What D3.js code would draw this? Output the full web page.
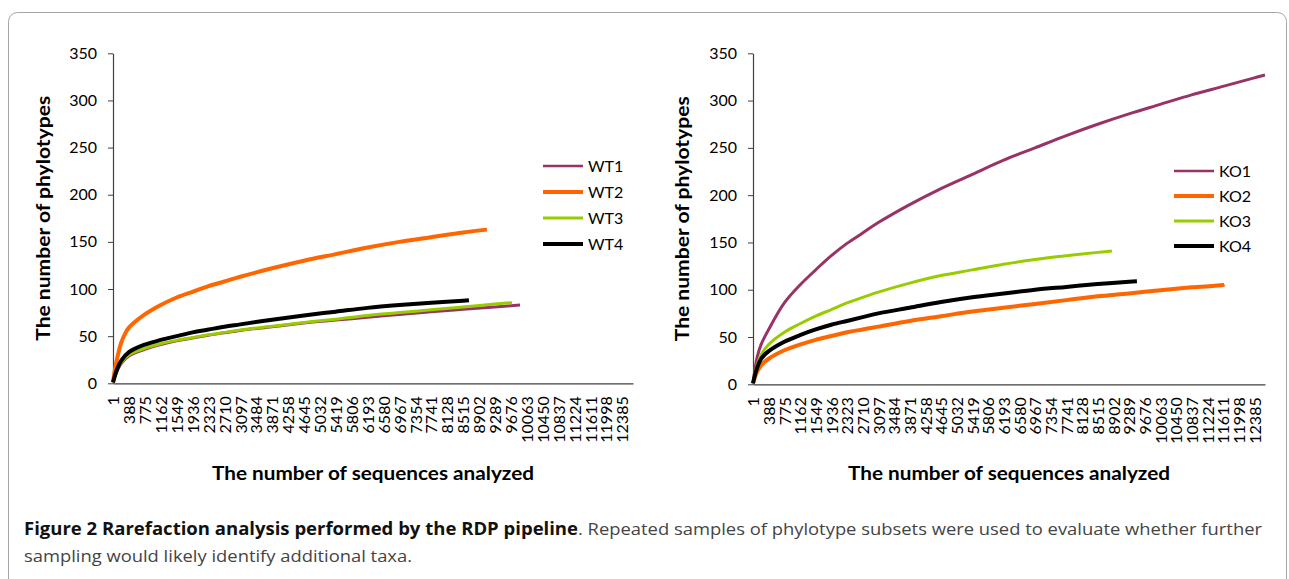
<!DOCTYPE html>
<html>
<head>
<meta charset="utf-8">
<script src="https://cdn.jsdelivr.net/npm/d3@7"></script>
<style>
  body { margin: 0; background: #fff; }
  svg { display: block; }
  .tick text { font-family: Lato, 'Open Sans', sans-serif; fill: #000; }
  .axis path, .axis line { stroke: #404040; }
</style>
</head>
<body>
<div id="main"></div>
<script>
'use strict';
// - - - - - - - - - -

// data
const seqTicks = [1, 388, 775, 1162, 1549, 1936, 2323, 2710, 3097, 3484, 3871, 4258, 4645, 5032, 5419, 5806,
  6193, 6580, 6967, 7354, 7741, 8128, 8515, 8902, 9289, 9676, 10063, 10450, 10837, 11224, 11611, 11998, 12385];
const phyTicks = [0, 50, 100, 150, 200, 250, 300, 350];
const seqMax = 12650;

const wtNames = ['WT1', 'WT2', 'WT3', 'WT4'];
const koNames = ['KO1', 'KO2', 'KO3', 'KO4'];
const seriesColors = ['#993366', '#ff6600', '#99cc00', '#000000'];

const seqWT1 = [1, 100, 200, 388, 775, 1162, 1549, 1936, 2323, 2710, 3097, 3871, 4645, 5419, 6193, 6967, 7741, 8515, 9289, 9902];
const phyWT1 = [1, 13, 21, 29, 36, 41, 45, 48, 51, 53.5, 56, 60, 64, 67, 70, 73, 76, 78.5, 81, 83];
const seqWT2 = [1, 50, 100, 200, 300, 388, 775, 1162, 1549, 1936, 2323, 2710, 3097, 3871, 4645, 5419, 6193, 6967, 7741, 8515, 9098];
const phyWT2 = [1, 15, 26, 43, 53, 59, 73, 83, 91, 97, 103, 108, 113, 122, 130, 137, 144, 150, 155, 160, 163];
const seqWT3 = [1, 100, 200, 388, 775, 1162, 1549, 1936, 2323, 2710, 3097, 3871, 4645, 5419, 6193, 6967, 7741, 8515, 9289, 9707];
const phyWT3 = [1, 14, 22, 30, 37, 42, 45.5, 48.5, 51.5, 54, 56.5, 60.5, 64.5, 68, 72, 75, 78, 81, 84, 85.5];
const seqWT4 = [1, 100, 200, 388, 775, 1162, 1549, 1936, 2323, 2710, 3097, 3871, 4645, 5419, 6193, 6967, 7741, 8515, 8659];
const phyWT4 = [1, 15, 24, 33, 41, 46, 50, 54, 57, 60, 62.5, 67.5, 72, 76, 80, 83, 85.5, 87.5, 88];

const seqKO1 = [1, 100, 200, 388, 775, 1162, 1549, 1936, 2323, 2710, 3097, 3871, 4645, 5419, 6193, 6967, 7741, 8515, 9289, 10063, 10837, 11611, 12385, 12650];
const phyKO1 = [1, 28, 42, 58, 86, 105, 121, 136, 149, 160, 171, 190, 207, 222, 237, 250, 263, 275, 286, 296, 306, 315, 324, 327];
const seqKO2 = [1, 100, 200, 388, 775, 1162, 1549, 1936, 2323, 2710, 3097, 3871, 4645, 5419, 6193, 6967, 7741, 8515, 9289, 10063, 10837, 11611, 11648];
const phyKO2 = [1, 13, 20, 27, 36, 42, 47, 51, 55, 58, 61, 67, 72, 77, 81, 85, 89, 93, 96, 99.5, 102.5, 105, 105.5];
const seqKO3 = [1, 100, 200, 388, 775, 1162, 1549, 1936, 2323, 2710, 3097, 3871, 4645, 5419, 6193, 6967, 7741, 8515, 8868];
const phyKO3 = [1, 20, 31, 42, 55, 64, 72, 79, 86, 92, 97.5, 107, 115, 121, 127, 132, 136, 139.5, 141];
const seqKO4 = [1, 100, 200, 388, 775, 1162, 1549, 1936, 2323, 2710, 3097, 3871, 4645, 5419, 6193, 6967, 7741, 8515, 9289, 9486];
const phyKO4 = [1, 17, 27, 35, 45, 52, 58, 63, 67, 71, 75, 81, 87, 92, 96, 100, 103, 106, 108.5, 109];

// configuration
const canvas = { width: 1289, height: 579 };
const panels = [
  {
    names: wtNames,
    seqs: [seqWT1, seqWT2, seqWT3, seqWT4],
    phys: [phyWT1, phyWT2, phyWT3, phyWT4],
    left: 113, right: 633, top: 53.3, bottom: 383.3,
    yTitleX: 43,
    legend: { x: 543, y: 166, step: 26 }
  },
  {
    names: koNames,
    seqs: [seqKO1, seqKO2, seqKO3, seqKO4],
    phys: [phyKO1, phyKO2, phyKO3, phyKO4],
    left: 753, right: 1265, top: 53.3, bottom: 384.3,
    yTitleX: 682,
    legend: { x: 1174, y: 171, step: 25 }
  }
];
const lineWidths = [3, 4, 3, 4];
const legendWidths = [2.5, 4, 3, 4];

let svg = d3.select('#main')
  .append('svg')
  .attr('width', canvas.width)
  .attr('height', canvas.height);

// figure frame
svg.append('rect')
  .attr('x', 8.5).attr('y', 12.5)
  .attr('width', 1278).attr('height', 620)
  .attr('rx', 9)
  .attr('fill', 'none')
  .attr('stroke', '#a6a6a6');

function drawPanel(p) {
  let xScale = d3.scaleLinear().domain([1, seqMax]).range([p.left, p.right]);
  let yScale = d3.scaleLinear().domain([0, 350]).range([p.bottom, p.top]);

  // x axis
  let xg = svg.append('g')
    .attr('class', 'axis')
    .attr('transform', 'translate(0,' + p.bottom + ')')
    .call(d3.axisBottom(xScale).tickValues(seqTicks).tickSize(0).tickSizeOuter(0).tickFormat(d3.format('d')));
  xg.selectAll('.tick text')
    .attr('font-size', 16)
    .attr('text-anchor', 'end')
    .attr('y', 0)
    .attr('dy', '0.36em')
    .attr('transform', 'translate(0,13) rotate(-90)');

  // y axis
  let yg = svg.append('g')
    .attr('class', 'axis')
    .attr('transform', 'translate(' + p.left + ',0)')
    .call(d3.axisLeft(yScale).tickValues(phyTicks).tickSize(5).tickSizeOuter(0).tickPadding(11));
  yg.selectAll('.tick text').attr('font-size', 16);
  svg.selectAll('.axis .domain').attr('stroke-width', 1.2);

  // lines
  let line = d3.line()
    .x(d => xScale(d[0]))
    .y(d => yScale(d[1]))
    .curve(d3.curveCatmullRom.alpha(0.5));

  p.seqs.forEach((seq, i) => {
    svg.append('path')
      .datum(seq.map((s, j) => [s, p.phys[i][j]]))
      .attr('d', line)
      .attr('fill', 'none')
      .attr('stroke', seriesColors[i])
      .attr('stroke-width', lineWidths[i])
      .attr('stroke-linecap', 'butt');
  });

  // axis titles
  svg.append('text')
    .attr('x', (p.left + p.right) / 2)
    .attr('y', 480)
    .attr('text-anchor', 'middle')
    .attr('font-family', 'Lato, sans-serif')
    .attr('font-weight', 'bold')
    .attr('font-size', 18)
    .attr('textLength', 322)
    .attr('lengthAdjust', 'spacingAndGlyphs')
    .text('The number of sequences analyzed');

  svg.append('text')
    .attr('transform', 'translate(' + p.yTitleX + ',' + ((p.top + p.bottom) / 2) + ') rotate(-90)')
    .attr('text-anchor', 'middle')
    .attr('dy', '0.36em')
    .attr('font-family', 'Lato, sans-serif')
    .attr('font-weight', 'bold')
    .attr('font-size', 19)
    .attr('textLength', 245)
    .attr('lengthAdjust', 'spacingAndGlyphs')
    .text('The number of phylotypes');

  // legend
  p.names.forEach((name, i) => {
    let ly = p.legend.y + i * p.legend.step;
    svg.append('line')
      .attr('x1', p.legend.x).attr('x2', p.legend.x + 40)
      .attr('y1', ly).attr('y2', ly)
      .attr('stroke', seriesColors[i])
      .attr('stroke-width', legendWidths[i]);
    svg.append('text')
      .attr('x', p.legend.x + 45)
      .attr('y', ly)
      .attr('dy', '0.36em')
      .attr('font-family', 'Lato, sans-serif')
      .attr('font-size', 16)
      .text(name);
  });
}

panels.forEach(drawPanel);

// caption
let cap = svg.append('g')
  .attr('font-family', "'Liberation Sans Narrow', 'Open Sans', sans-serif")
  .attr('font-size', 17);
cap.append('text')
  .attr('x', 24).attr('y', 535)
  .attr('font-weight', 'bold')
  .attr('fill', '#111')
  .attr('textLength', 554)
  .attr('lengthAdjust', 'spacingAndGlyphs')
  .text('Figure 2 Rarefaction analysis performed by the RDP pipeline');
cap.append('text')
  .attr('x', 578).attr('y', 535)
  .attr('fill', '#444')
  .attr('textLength', 684)
  .attr('lengthAdjust', 'spacingAndGlyphs')
  .text('. Repeated samples of phylotype subsets were used to evaluate whether further');
cap.append('text')
  .attr('x', 24).attr('y', 562)
  .attr('fill', '#444')
  .attr('textLength', 388)
  .attr('lengthAdjust', 'spacingAndGlyphs')
  .text('sampling would likely identify additional taxa.');

// - - - - - - - - - -
</script>
</body>
</html>
